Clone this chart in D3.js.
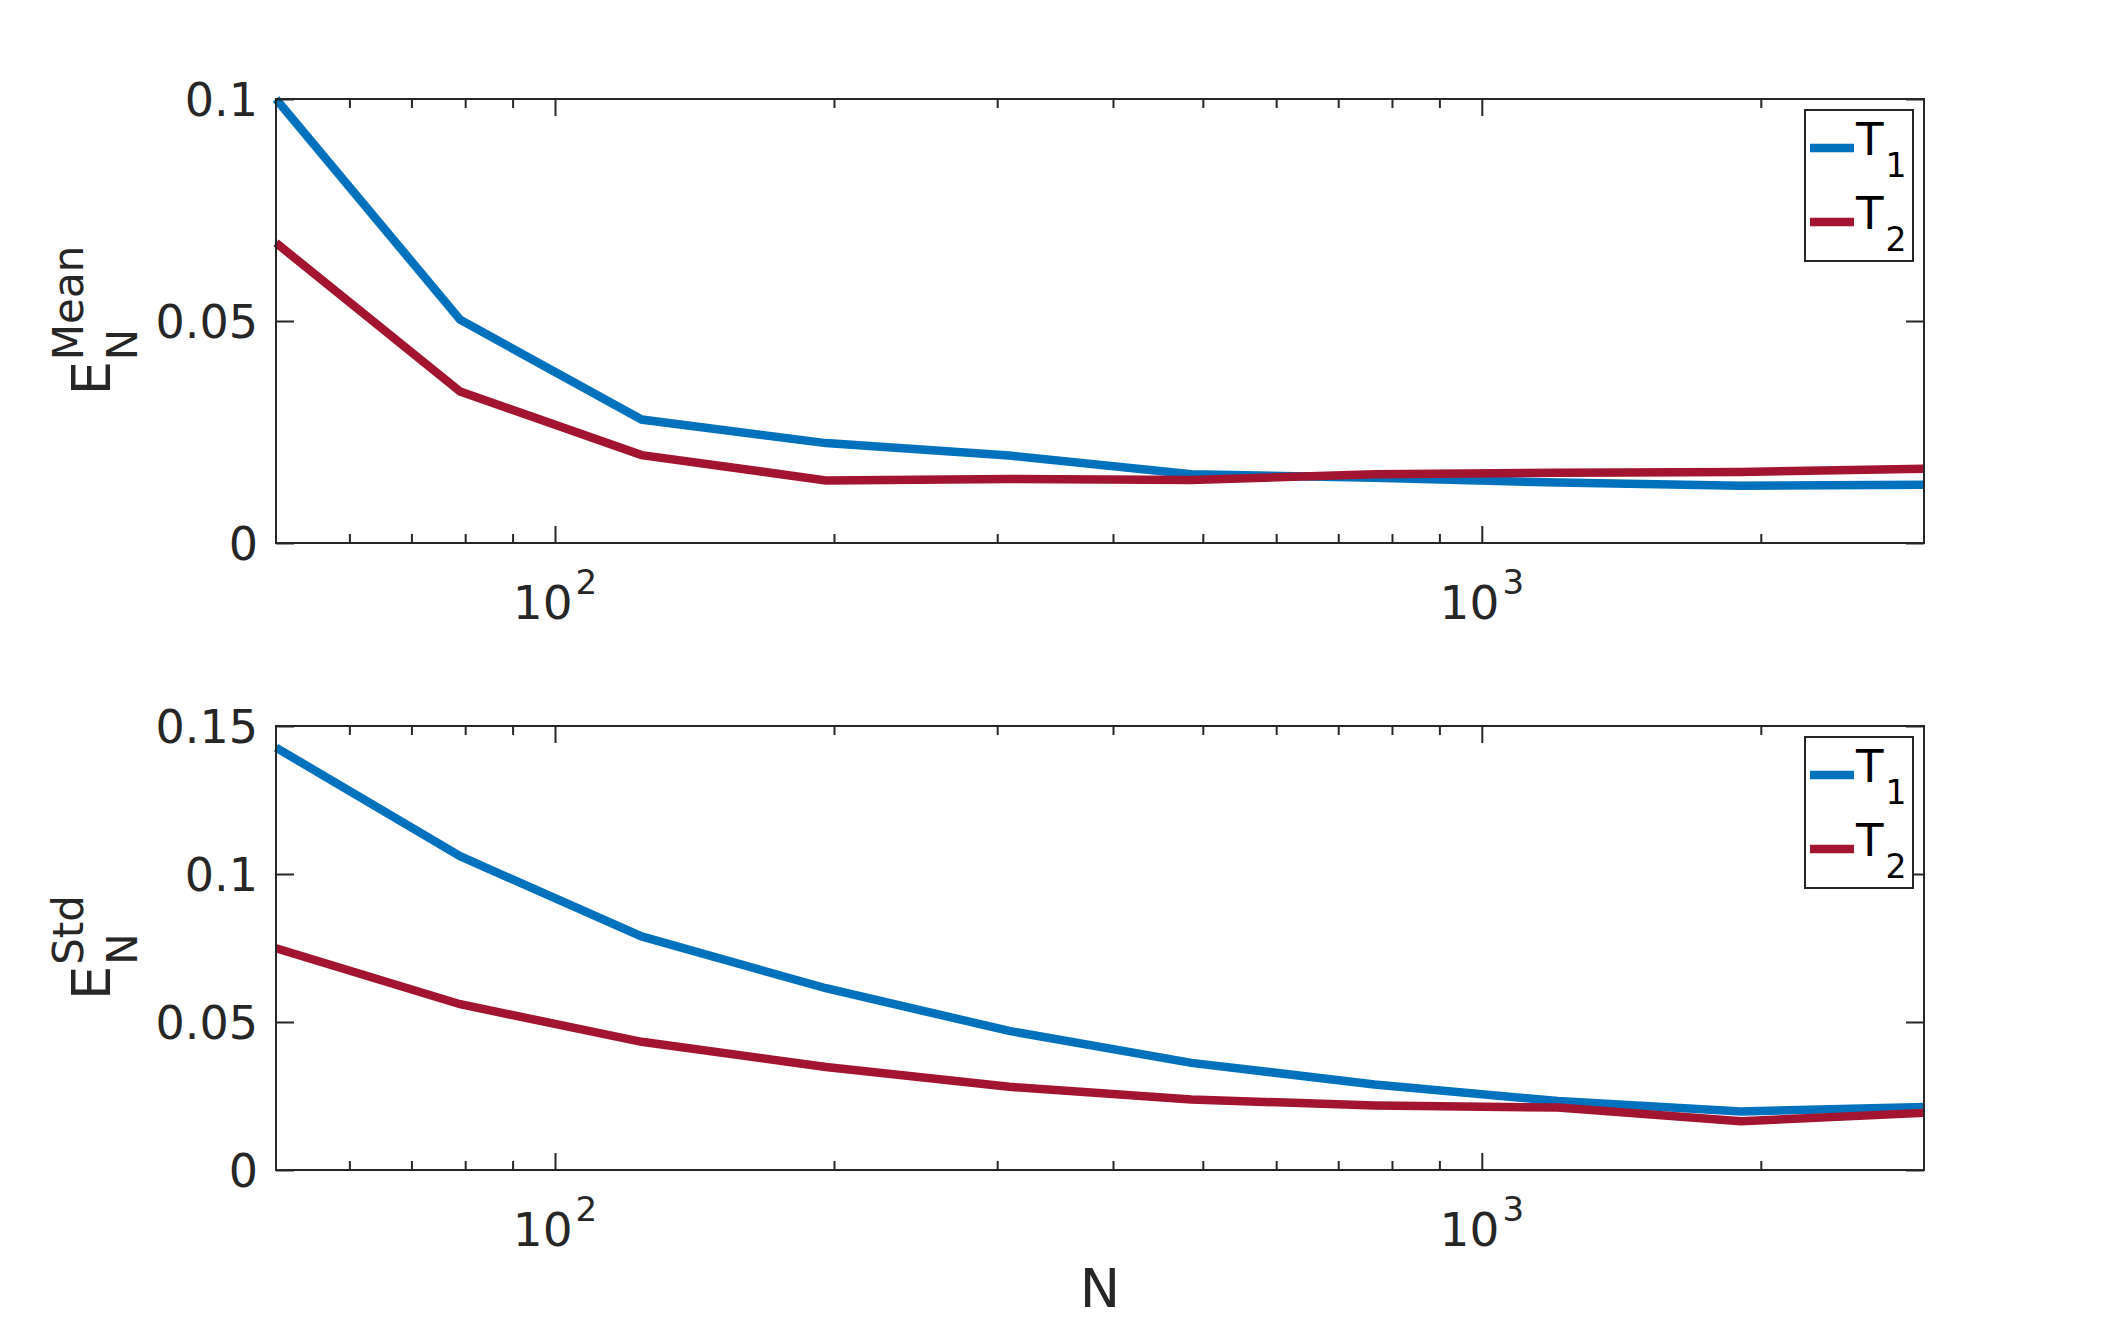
<!DOCTYPE html>
<html>
<head>
<meta charset="utf-8">
<script src="https://cdnjs.cloudflare.com/ajax/libs/d3/7.8.5/d3.min.js"></script>
<style>
  body { margin: 0; background: #fff; }
  text { font-family: "DejaVu Sans", sans-serif; fill: #262626; }
</style>
</head>
<body>
<script>
// data
var sampleN = [50, 79, 124, 196, 309, 486, 766, 1208, 1904, 3000];
var meanT1 = [0.1000, 0.0503, 0.0278, 0.0225, 0.0197, 0.0155, 0.0147, 0.0136, 0.0129, 0.0131];
var meanT2 = [0.0676, 0.0341, 0.0198, 0.0141, 0.0144, 0.0142, 0.0155, 0.0158, 0.0160, 0.0167];
var stdT1 = [0.1427, 0.1060, 0.0789, 0.0614, 0.0470, 0.0362, 0.0289, 0.0233, 0.0198, 0.0213];
var stdT2 = [0.0749, 0.0560, 0.0433, 0.0348, 0.0281, 0.0238, 0.0218, 0.0211, 0.0165, 0.0193];
var seriesNames = ["1", "2"];
var xMajor = [100, 1000];
var xMinor = [60, 70, 80, 90, 200, 300, 400, 500, 600, 700, 800, 900, 2000];
var meanTicks = [0, 0.05, 0.1];
var stdTicks = [0, 0.05, 0.1, 0.15];

var width = 2126, height = 1321;
var left = 276, right = 1924;
var colors = ['#0072BD', '#A2142F'];
var axisColor = '#262626';

var svg = d3.select("body").append("svg")
    .attr("width", width)
    .attr("height", height);

svg.append("rect").attr("width", width).attr("height", height).attr("fill", "#fff");

var x = d3.scaleLog()
    .domain([50, 3000])
    .range([left, right]);

function drawPanel(top, bottom, yMax, yTicks, t1, t2, supText, showXLabel) {
	var y = d3.scaleLinear()
	    .domain([0, yMax])
	    .range([bottom, top]);

	var g = svg.append("g");

	// lines
	var line = d3.line()
	    .x(function(d, i) { return x(sampleN[i]); })
	    .y(function(d) { return y(d); });

	[t1, t2].forEach(function(s, k) {
		g.append("path")
		    .datum(s)
		    .attr("d", line)
		    .attr("fill", "none")
		    .attr("stroke", colors[k])
		    .attr("stroke-width", 8.5);
	});

	// ticks, all pointing inward
	function styleAxis(sel) {
		sel.select(".domain").remove();
		sel.selectAll("line").attr("stroke", axisColor).attr("stroke-width", 2);
		sel.selectAll("text").remove();
	}
	g.append("g").attr("transform", "translate(0," + bottom + ")")
	    .call(d3.axisBottom(x).tickValues(xMajor).tickSize(-17)).call(styleAxis);
	g.append("g").attr("transform", "translate(0," + bottom + ")")
	    .call(d3.axisBottom(x).tickValues(xMinor).tickSize(-9)).call(styleAxis);
	g.append("g").attr("transform", "translate(0," + top + ")")
	    .call(d3.axisTop(x).tickValues(xMajor).tickSize(-17)).call(styleAxis);
	g.append("g").attr("transform", "translate(0," + top + ")")
	    .call(d3.axisTop(x).tickValues(xMinor).tickSize(-9)).call(styleAxis);
	g.append("g").attr("transform", "translate(" + left + ",0)")
	    .call(d3.axisLeft(y).tickValues(yTicks).tickSize(-18)).call(styleAxis);
	g.append("g").attr("transform", "translate(" + right + ",0)")
	    .call(d3.axisRight(y).tickValues(yTicks).tickSize(-18)).call(styleAxis);

	// box
	g.append("rect")
	    .attr("x", left).attr("y", top)
	    .attr("width", right - left).attr("height", bottom - top)
	    .attr("fill", "none")
	    .attr("stroke", axisColor)
	    .attr("stroke-width", 2);

	// y tick labels
	g.selectAll(".ylab")
	    .data(yTicks)
	    .enter().append("text")
	    .attr("x", left - 18)
	    .attr("y", function(d) { return y(d); })
	    .attr("dy", "0.36em")
	    .attr("text-anchor", "end")
	    .style("font-size", "46px")
	    .text(function(d) { return d; });

	// x tick labels 10^k
	xMajor.forEach(function(v) {
		var t = g.append("text")
		    .attr("x", x(v))
		    .attr("y", bottom + 76)
		    .attr("text-anchor", "middle")
		    .style("font-size", "47px");
		t.append("tspan").text("10");
		t.append("tspan").attr("dy", -25).attr("dx", 3).style("font-size", "34px").text(Math.round(Math.log10(v)));
	});

	// y label: E with superscript and subscript N
	var cy = (top + bottom) / 2;
	var lab = g.append("g").attr("transform", "translate(110," + cy + ") rotate(-90)");
	var e = lab.append("text").style("font-size", "54px").text("E");
	var sup = lab.append("text").style("font-size", "42px").text(supText);
	var eW = e.node().getComputedTextLength();
	var sW = sup.node().getComputedTextLength();
	var start = -(eW + sW) / 2;
	e.attr("x", start);
	sup.attr("x", start + eW + 1).attr("y", -27);
	lab.append("text").style("font-size", "42px")
	    .attr("x", start + eW + 1).attr("y", 27).text("N");

	// legend
	var lx = right - 119, ly = top + 11, lw = 108, lh = 151;
	g.append("rect")
	    .attr("x", lx).attr("y", ly)
	    .attr("width", lw).attr("height", lh)
	    .attr("fill", "#fff")
	    .attr("stroke", axisColor)
	    .attr("stroke-width", 2);
	seriesNames.forEach(function(name, k) {
		var ey = ly + 38 + k * 74;
		g.append("line")
		    .attr("x1", lx + 5).attr("x2", lx + 49)
		    .attr("y1", ey).attr("y2", ey)
		    .attr("stroke", colors[k])
		    .attr("stroke-width", 8.5);
		var t = g.append("text")
		    .attr("x", lx + 51)
		    .attr("y", ey + 7)
		    .style("font-size", "45px")
		    .style("fill", "#000");
		t.append("tspan").text("T");
		t.append("tspan").attr("dy", 22).attr("dx", 2).style("font-size", "33px").text(name);
	});

	if (showXLabel) {
		svg.append("text")
		    .attr("x", (left + right) / 2)
		    .attr("y", 1307)
		    .attr("text-anchor", "middle")
		    .style("font-size", "54px")
		    .text("N");
	}
}

drawPanel(99, 543, 0.1, meanTicks, meanT1, meanT2, "Mean", false);
drawPanel(726, 1170, 0.15, stdTicks, stdT1, stdT2, "Std", true);
</script>
</body>
</html>
